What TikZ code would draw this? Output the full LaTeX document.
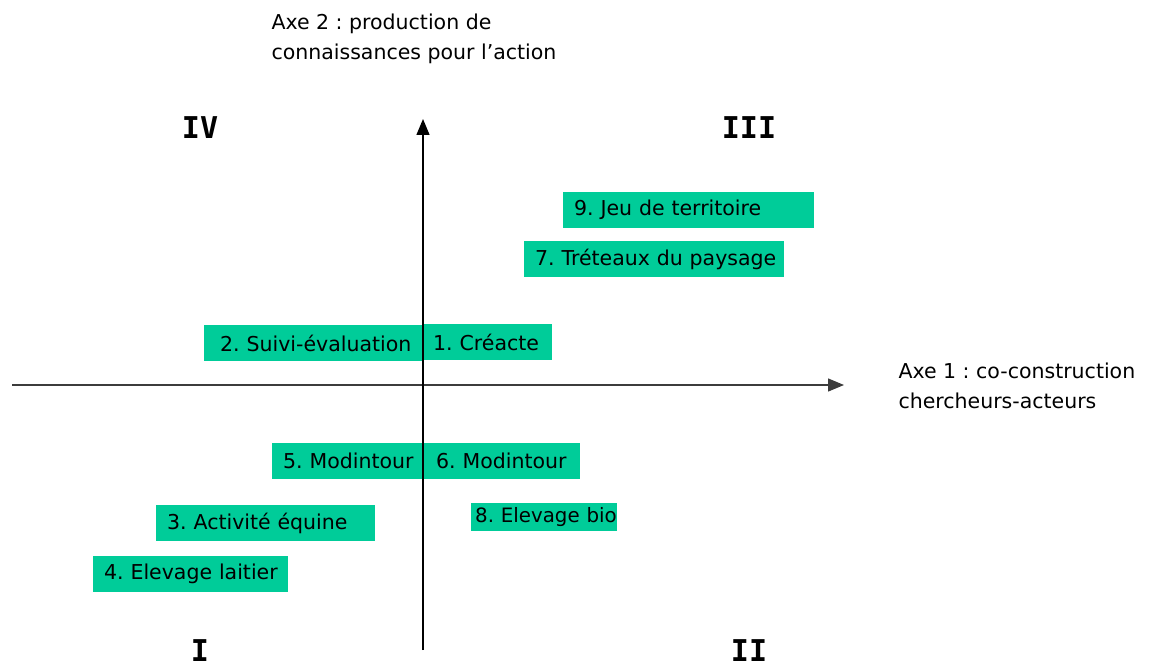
\documentclass[tikz,border=0pt]{standalone}
\usepackage{fontspec}
\setmainfont{DejaVu Sans}
\newfontfamily\romfont{DejaVu Sans Mono}
\usetikzlibrary{arrows.meta}
\definecolor{boxgreen}{RGB}{0,204,153}
\definecolor{axisgray}{RGB}{60,60,60}
\frenchspacing
\tikzset{
  gbox/.style={fill=boxgreen, anchor=north west, align=left, inner ysep=0pt, font=\fontsize{20.5}{24}\selectfont},
  axisline/.style={line width=1.4pt, -{Triangle[length=16pt,width=13pt]}},
  roman/.style={font=\romfont\bfseries\fontsize{30}{30}\selectfont},
  axislabel/.style={anchor=base west, align=left, font=\fontsize{20.5}{30}\selectfont}
}
% \greenbox{name}{x}{y}{w}{h}{xsep}{text}
\newcommand\greenbox[7]{%
  \node[gbox, inner xsep=#6pt, text width=#4pt-2*#6pt, minimum height=#5pt] (#1) at (#2,#3) {\mbox{#7}};}
\begin{document}
\begin{tikzpicture}[x=1pt,y=-1pt]
\frenchspacing
\useasboundingbox (0,0) rectangle (1175,668);
% boxes
\greenbox{b9}{563}{192}{251}{36}{11}{9. Jeu de territoire}
\greenbox{b7}{524}{241}{260}{36}{11}{7. Tréteaux du paysage}
\greenbox{b2}{204}{325}{219}{36}{16}{2. Suivi-évaluation}
\greenbox{b1}{423}{324}{129}{36}{10}{1. Créacte}
\greenbox{b5}{272}{443}{151}{36}{11}{5. Modintour}
\greenbox{b6}{423}{443}{157}{36}{13}{6. Modintour}
\greenbox{b3}{156}{505}{219}{36}{11}{3. Activité équine}
\greenbox{b8}{471}{503}{146}{28}{4}{\fontsize{19.8}{24}\selectfont 8. Elevage bio}
\greenbox{b4}{93}{556}{195}{36}{11}{4. Elevage laitier}
% axes
\coordinate (hL) at (12,385);
\coordinate (hR) at (844,385);
\coordinate (vB) at (423,650);
\coordinate (vT) at (423,119);
\draw[axisline, draw=axisgray, fill=black] (hL) -- (hR);
\draw[axisline, draw=black] (vB) -- (vT);
% axis labels
\node[axislabel] (ax2) at (268,60) {Axe 2 : production de\\connaissances pour l’action};
\node[axislabel] (ax1) at (895,408) {Axe 1 : co-construction\\chercheurs-acteurs};
% quadrant numerals
\node[roman] (q4) at (200,128) {IV};
\node[roman] (q3) at (749,128) {III};
\node[roman] (q1) at (200,651) {I};
\node[roman] (q2) at (749,651) {II};
\end{tikzpicture}
\end{document}
